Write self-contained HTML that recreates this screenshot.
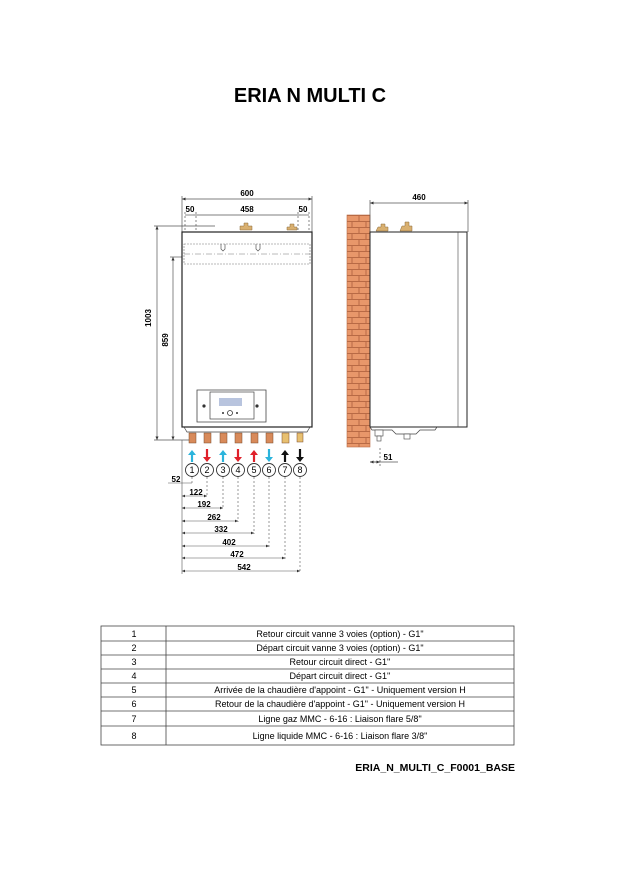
<!DOCTYPE html>
<html><head><meta charset="utf-8"><style>
html,body{margin:0;padding:0;background:#fff}
svg{display:block}
text{font-family:"Liberation Sans",Arial,sans-serif}
</style></head><body>
<svg width="624" height="883" viewBox="0 0 624 883" xmlns="http://www.w3.org/2000/svg">
<defs>
<marker id="ar" markerWidth="6" markerHeight="6" refX="5" refY="3" orient="auto"><path d="M0,0.8 L5,3 L0,5.2z" fill="#333"/></marker>
<marker id="al" markerWidth="6" markerHeight="6" refX="1" refY="3" orient="auto"><path d="M6,0.8 L1,3 L6,5.2z" fill="#333"/></marker>
<pattern id="brick" x="347" y="215" width="23" height="12" patternUnits="userSpaceOnUse">
<rect width="23" height="12" fill="#e8976a"/>
<path d="M0,0.5H23M0,6.5H23M12,0V6M5,6V12M19,6V12" stroke="#b86a45" stroke-width="1" fill="none"/>
</pattern>
</defs>
<text x="310" y="102" font-size="20" font-weight="bold" text-anchor="middle">ERIA N MULTI C</text>

<!-- front dims -->
<g stroke="#555" stroke-width="0.7" fill="none">
<line x1="182" y1="199" x2="312" y2="199" marker-start="url(#al)" marker-end="url(#ar)"/>
<line x1="182" y1="196" x2="182" y2="232"/><line x1="312" y1="196" x2="312" y2="232"/>
<line x1="193" y1="215" x2="301" y2="215"/>
<line x1="185" y1="215" x2="193" y2="215"/><line x1="301" y1="215" x2="309" y2="215"/>
<line x1="185" y1="212" x2="185" y2="262" stroke-dasharray="2,2"/>
<line x1="196" y1="212" x2="196" y2="262" stroke-dasharray="2,2"/>
<line x1="298" y1="212" x2="298" y2="262" stroke-dasharray="2,2"/>
<line x1="309" y1="212" x2="309" y2="262" stroke-dasharray="2,2"/>
<line x1="157" y1="226" x2="157" y2="440" marker-start="url(#al)" marker-end="url(#ar)"/>
<line x1="154" y1="226" x2="215" y2="226"/>
<line x1="173" y1="257" x2="173" y2="440" marker-start="url(#al)" marker-end="url(#ar)"/>
<line x1="170" y1="257" x2="185" y2="257"/>
<line x1="154" y1="440" x2="192" y2="440"/>
</g>
<text x="247" y="196" font-size="8" font-weight="bold" text-anchor="middle">600</text>
<text x="190" y="212" font-size="8" font-weight="bold" text-anchor="middle">50</text>
<text x="247" y="212" font-size="8" font-weight="bold" text-anchor="middle">458</text>
<text x="303" y="212" font-size="8" font-weight="bold" text-anchor="middle">50</text>
<text transform="translate(151,318) rotate(-90)" font-size="8" font-weight="bold" text-anchor="middle">1003</text>
<text transform="translate(168,340) rotate(-90)" font-size="8" font-weight="bold" text-anchor="middle">859</text>

<!-- front boiler -->
<rect x="182" y="232" width="130" height="195" fill="#fff" stroke="#222" stroke-width="1.2"/>
<rect x="184" y="244" width="126" height="20" fill="none" stroke="#777" stroke-width="0.6" stroke-dasharray="2,1"/>
<line x1="184" y1="254" x2="310" y2="254" stroke="#777" stroke-width="0.5" stroke-dasharray="6,2,1,2"/>
<path d="M221,244 v5 l2,2 l2,-2 v-5 M256,244 v5 l2,2 l2,-2 v-5" fill="none" stroke="#555" stroke-width="0.7"/>
<path d="M240,230 h12 v-4 h-4 v-3 h-4 v3 h-4z M287,230 h10 v-3 h-3 v-3 h-4 v3 h-3z" fill="#d9b070" stroke="#8a6a3a" stroke-width="0.5"/>
<path d="M197,390 h69 v32 h-69z" fill="#fff" stroke="#444" stroke-width="0.8"/>
<rect x="210" y="392" width="44" height="27" fill="#fff" stroke="#444" stroke-width="0.7"/>
<rect x="219" y="398" width="23" height="8" fill="#b8c4de"/>
<circle cx="230" cy="413" r="2.5" fill="none" stroke="#333" stroke-width="0.8"/>
<circle cx="223" cy="413" r="1" fill="#333"/><circle cx="237" cy="413" r="1" fill="#333"/>
<circle cx="204" cy="406" r="1.6" fill="#333"/><circle cx="257" cy="406" r="1.6" fill="#333"/>
<path d="M184,427 l3,5 h120 l3,-5" fill="none" stroke="#444" stroke-width="0.7"/>

<!-- connectors -->
<g stroke="#7a4a2a" stroke-width="0.5">
<rect x="189" y="433" width="7" height="10" fill="#d88a5a"/>
<rect x="204" y="433" width="7" height="10" fill="#d88a5a"/>
<rect x="220" y="433" width="7" height="10" fill="#d88a5a"/>
<rect x="235" y="433" width="7" height="10" fill="#d88a5a"/>
<rect x="251" y="433" width="7" height="10" fill="#d88a5a"/>
<rect x="266" y="433" width="7" height="10" fill="#d88a5a"/>
<rect x="282" y="433" width="7" height="10" fill="#e8c070"/>
<rect x="297" y="433" width="6" height="9" fill="#e8c070"/>
</g>
<g stroke-width="2.2">
<line x1="192" y1="462" x2="192" y2="452" stroke="#2bb4dc"/><path d="M188,455 l4,-5 l4,5z" fill="#2bb4dc"/>
<line x1="207" y1="449" x2="207" y2="459" stroke="#e0202a"/><path d="M203,457 l4,5 l4,-5z" fill="#e0202a"/>
<line x1="223" y1="462" x2="223" y2="452" stroke="#2bb4dc"/><path d="M219,455 l4,-5 l4,5z" fill="#2bb4dc"/>
<line x1="238" y1="449" x2="238" y2="459" stroke="#e0202a"/><path d="M234,457 l4,5 l4,-5z" fill="#e0202a"/>
<line x1="254" y1="462" x2="254" y2="452" stroke="#e0202a"/><path d="M250,455 l4,-5 l4,5z" fill="#e0202a"/>
<line x1="269" y1="449" x2="269" y2="459" stroke="#2bb4dc"/><path d="M265,457 l4,5 l4,-5z" fill="#2bb4dc"/>
<line x1="285" y1="462" x2="285" y2="452" stroke="#111"/><path d="M281,455 l4,-5 l4,5z" fill="#111"/>
<line x1="300" y1="449" x2="300" y2="459" stroke="#111"/><path d="M296,457 l4,5 l4,-5z" fill="#111"/>
</g>
<g fill="#fff" stroke="#333" stroke-width="0.9">
<circle cx="192" cy="470" r="6.5"/><circle cx="207" cy="470" r="6.5"/><circle cx="223" cy="470" r="6.5"/><circle cx="238" cy="470" r="6.5"/>
<circle cx="254" cy="470" r="6.5"/><circle cx="269" cy="470" r="6.5"/><circle cx="285" cy="470" r="6.5"/><circle cx="300" cy="470" r="6.5"/>
</g>
<g font-size="9" text-anchor="middle">
<text x="192" y="473">1</text><text x="207" y="473">2</text><text x="223" y="473">3</text><text x="238" y="473">4</text>
<text x="254" y="473">5</text><text x="269" y="473">6</text><text x="285" y="473">7</text><text x="300" y="473">8</text>
</g>
<g stroke="#555" stroke-width="0.6" fill="none">
<line x1="182" y1="440" x2="182" y2="574"/>
<g stroke-dasharray="2,2">
<line x1="192" y1="477" x2="192" y2="484"/><line x1="207" y1="477" x2="207" y2="496"/>
<line x1="223" y1="477" x2="223" y2="509"/><line x1="238" y1="477" x2="238" y2="522"/>
<line x1="254" y1="477" x2="254" y2="534"/><line x1="269" y1="477" x2="269" y2="547"/>
<line x1="285" y1="477" x2="285" y2="559"/><line x1="300" y1="477" x2="300" y2="572"/>
</g>
<line x1="168" y1="483" x2="192" y2="483"/>
<line x1="182" y1="496" x2="207" y2="496" marker-start="url(#al)" marker-end="url(#ar)"/>
<line x1="182" y1="508" x2="223" y2="508" marker-start="url(#al)" marker-end="url(#ar)"/>
<line x1="182" y1="521" x2="238" y2="521" marker-start="url(#al)" marker-end="url(#ar)"/>
<line x1="182" y1="533" x2="254" y2="533" marker-start="url(#al)" marker-end="url(#ar)"/>
<line x1="182" y1="546" x2="269" y2="546" marker-start="url(#al)" marker-end="url(#ar)"/>
<line x1="182" y1="558" x2="285" y2="558" marker-start="url(#al)" marker-end="url(#ar)"/>
<line x1="182" y1="571" x2="300" y2="571" marker-start="url(#al)" marker-end="url(#ar)"/>
</g>
<g font-size="8" font-weight="bold" text-anchor="middle">
<text x="176" y="482">52</text><text x="196" y="495">122</text><text x="204" y="507">192</text>
<text x="214" y="520">262</text><text x="221" y="532">332</text><text x="229" y="545">402</text>
<text x="237" y="557">472</text><text x="244" y="570">542</text>
</g>

<!-- side view -->
<rect x="347" y="215" width="23" height="232" fill="url(#brick)" stroke="#b86a45" stroke-width="0.6"/>
<g stroke="#555" stroke-width="0.7" fill="none">
<line x1="370" y1="203" x2="468" y2="203" marker-start="url(#al)" marker-end="url(#ar)"/>
<line x1="370" y1="200" x2="370" y2="232"/><line x1="468" y1="200" x2="468" y2="232"/>
<line x1="380" y1="448" x2="380" y2="466" stroke-dasharray="2,2"/>
<line x1="370" y1="462" x2="398" y2="462"/>
<line x1="370" y1="462" x2="380" y2="462" marker-start="url(#al)" marker-end="url(#ar)"/>
</g>
<text x="419" y="200" font-size="8" font-weight="bold" text-anchor="middle">460</text>
<text x="388" y="460" font-size="8" font-weight="bold" text-anchor="middle">51</text>
<rect x="370" y="232" width="97" height="195" fill="#fff" stroke="#222" stroke-width="1"/>
<line x1="458" y1="232" x2="458" y2="427" stroke="#444" stroke-width="0.6"/>
<path d="M370,427 l2,3 h20 l4,4 h20 l4,-4 h15 l2,-3" fill="none" stroke="#444" stroke-width="0.7"/>
<rect x="375" y="430" width="8" height="6" fill="#fff" stroke="#444" stroke-width="0.6"/>
<rect x="377" y="436" width="4" height="5" fill="#fff" stroke="#444" stroke-width="0.6"/>
<rect x="404" y="434" width="6" height="5" fill="#fff" stroke="#444" stroke-width="0.6"/>
<path d="M376,231 h12 v-4 h-3 v-3 h-4 v3 h-3z M400,231 h12 v-5 h-3 v-4 h-4 v4 h-3z" fill="#d9b070" stroke="#8a6a3a" stroke-width="0.5"/>

<!-- table -->
<g stroke="#444" stroke-width="0.8" fill="none">
<rect x="101" y="626" width="413" height="119"/>
<line x1="166" y1="626" x2="166" y2="745"/>
<line x1="101" y1="641" x2="514" y2="641"/><line x1="101" y1="655" x2="514" y2="655"/>
<line x1="101" y1="669" x2="514" y2="669"/><line x1="101" y1="683" x2="514" y2="683"/>
<line x1="101" y1="697" x2="514" y2="697"/><line x1="101" y1="711" x2="514" y2="711"/>
<line x1="101" y1="726" x2="514" y2="726"/>
</g>
<g font-size="9" text-anchor="middle">
<text x="134" y="637">1</text><text x="134" y="651">2</text><text x="134" y="665">3</text><text x="134" y="679">4</text>
<text x="134" y="693">5</text><text x="134" y="707">6</text><text x="134" y="722">7</text><text x="134" y="739">8</text>
<text x="340" y="637">Retour circuit vanne 3 voies (option) - G1"</text>
<text x="340" y="651">Départ circuit vanne 3 voies (option) - G1"</text>
<text x="340" y="665">Retour circuit direct - G1''</text>
<text x="340" y="679">Départ circuit direct - G1''</text>
<text x="340" y="693">Arrivée de la chaudière d'appoint - G1" - Uniquement version H</text>
<text x="340" y="707">Retour de la chaudière d'appoint - G1" - Uniquement version H</text>
<text x="340" y="722">Ligne gaz MMC - 6-16 : Liaison flare 5/8"</text>
<text x="340" y="739">Ligne liquide MMC - 6-16 : Liaison flare 3/8"</text>
</g>
<text x="515" y="771" font-size="10.5" font-weight="bold" text-anchor="end">ERIA_N_MULTI_C_F0001_BASE</text>
</svg>
</body></html>
